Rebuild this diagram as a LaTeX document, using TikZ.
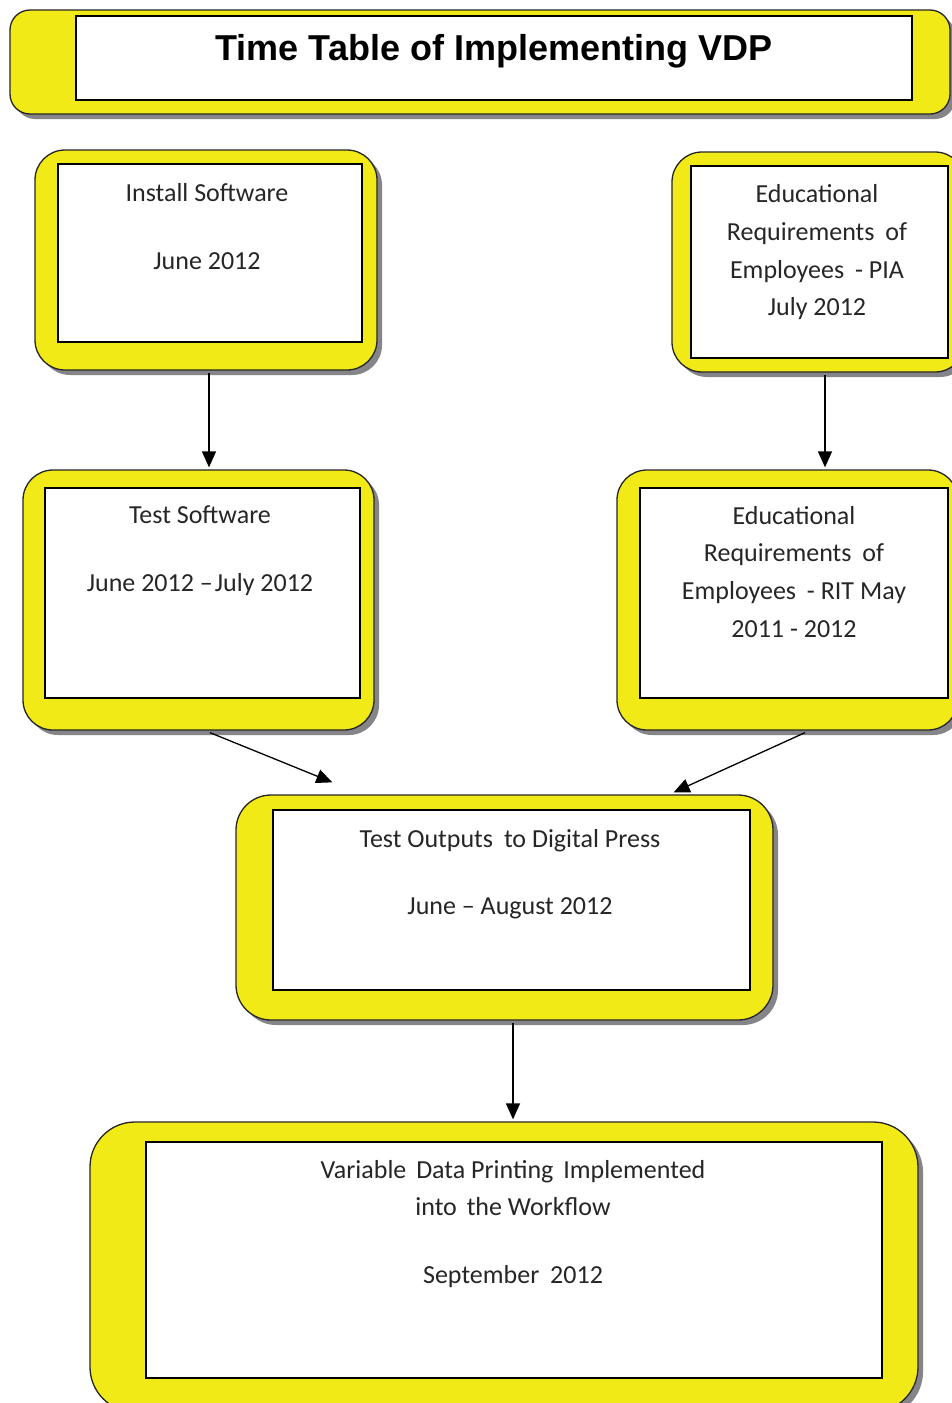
\documentclass[tikz,border=0pt]{standalone}
\usepackage{fontspec}
\setmainfont{Carlito}
\newfontfamily\titlefont{Liberation Sans}
\usetikzlibrary{shadows,arrows.meta}
\definecolor{vdpyellow}{RGB}{242,234,22}
\definecolor{shadowgray}{RGB}{120,120,125}
\tikzset{
  outerbox/.style={draw=black!85, line width=1.3pt, fill=vdpyellow, inner sep=0pt,
    drop shadow={shadow xshift=5pt, shadow yshift=-5pt, fill=shadowgray, opacity=0.9}},
  innerbox/.style={draw=black, line width=1.5pt, fill=white, inner sep=0pt},
  boxtext/.style={anchor=north, inner sep=0pt, align=center, text=black!85,
    font=\fontsize{26}{37.7}\selectfont},
  arr/.style={line width=1.3pt, -{Triangle[length=16pt,width=14pt]}}
}
\begin{document}
\begin{tikzpicture}[x=1pt,y=-1pt]
\useasboundingbox[fill=white] (0,0) rectangle (952,1403);

% Title
\node[outerbox, rounded corners=20pt, minimum width=940pt, minimum height=104pt] (t) at (480,62) {};
\node[innerbox, minimum width=836pt, minimum height=84pt] (ti) at (494,58) {};
\node[anchor=base, inner sep=0pt, font=\titlefont\bfseries\fontsize{36}{40}\selectfont] (tt) at (494,60) {Time Table of Implementing VDP};

% Box 1
\node[outerbox, rounded corners=30pt, minimum width=342pt, minimum height=220pt] (b1) at (206,260) {};
\node[innerbox, minimum width=304pt, minimum height=178pt] (b1i) at (210,253) {};
\node[boxtext] (b1t) at (207,183.5) {Install Software\\[30.3pt] June 2012};

% Box 2
\node[outerbox, rounded corners=30pt, minimum width=293pt, minimum height=220pt] (b2) at (818.5,262) {};
\node[innerbox, minimum width=257pt, minimum height=192pt] (b2i) at (819.5,262) {};
\node[boxtext] (b2t) at (817,184.5) {Educational\\ Requirements\hspace{5pt} of\\ Employees\hspace{5pt} - PIA\\ July 2012};

% Box 3
\node[outerbox, rounded corners=30pt, minimum width=351pt, minimum height=260pt] (b3) at (198.5,600) {};
\node[innerbox, minimum width=315pt, minimum height=210pt] (b3i) at (202.5,593) {};
\node[boxtext] (b3t) at (200,505.5) {Test Software\\[30.3pt] June 2012 --\hspace{2pt}July 2012};

% Box 4
\node[outerbox, rounded corners=30pt, minimum width=341pt, minimum height=260pt] (b4) at (787.5,600) {};
\node[innerbox, minimum width=308pt, minimum height=210pt] (b4i) at (794,593) {};
\node[boxtext] (b4t) at (794,506) {Educational\\ Requirements\hspace{5pt} of\\ Employees\hspace{5pt} - RIT May\\ 2011 - 2012};

% Box 5
\node[outerbox, rounded corners=35pt, minimum width=537pt, minimum height=225pt] (b5) at (504.5,907.5) {};
\node[innerbox, minimum width=477pt, minimum height=180pt] (b5i) at (511.5,900) {};
\node[boxtext] (b5t) at (510,829) {Test Outputs\hspace{5pt} to Digital Press\\[29.3pt] June -- August 2012};

% Box 6
\node[outerbox, rounded corners=45pt, minimum width=828pt, minimum height=290pt] (b6) at (504,1267) {};
\node[innerbox, minimum width=736pt, minimum height=236pt] (b6i) at (514,1260) {};
\node[boxtext, font=\fontsize{26}{37}\selectfont] (b6t) at (513,1160.5) {Variable\hspace{4pt} Data Printing\hspace{4pt} Implemented\\ into\hspace{4pt} the Workflow\\[31pt] September\hspace{5pt} 2012};

% Connectors
\draw[arr] ([xshift=3pt,yshift=-2pt]b1.south) -- ([xshift=10.5pt,yshift=2pt]b3.north);
\draw[arr] ([xshift=6.5pt,yshift=-2pt]b2.south) -- ([xshift=37.5pt,yshift=2pt]b4.north);
\draw[arr] ([xshift=11.5pt,yshift=-2pt]b3.south) -- ([xshift=97pt,yshift=12pt]b5.north west);
\draw[arr] ([xshift=17.5pt,yshift=-2pt]b4.south) -- ([xshift=-100pt,yshift=2pt]b5.north east);
\draw[arr] ([xshift=8.5pt,yshift=-2pt]b5.south) -- ([xshift=9pt,yshift=2pt]b6.north);
\end{tikzpicture}
\end{document}
